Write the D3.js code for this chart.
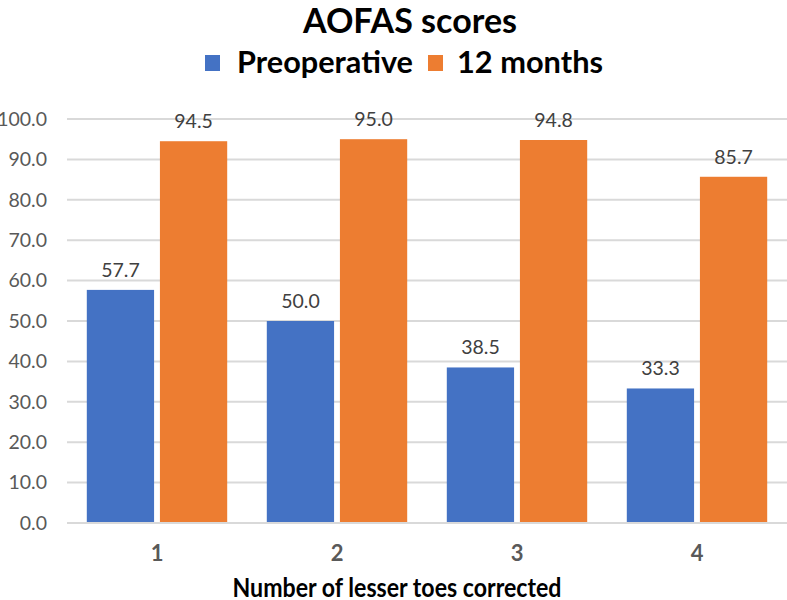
<!DOCTYPE html>
<html>
<head>
<meta charset="utf-8">
<script src="https://cdn.jsdelivr.net/npm/d3@7"></script>
<style>
  body { margin: 0; background: #fff; }
  text { font-family: Lato, "Open Sans", sans-serif; }
</style>
</head>
<body>
<svg id="chart"></svg>
<script>
// data
var categories = ["1", "2", "3", "4"];
var seriesNames = ["Preoperative", "12 months"];
var preoperative = [57.7, 50.0, 38.5, 33.3];
var months12 = [94.5, 95.0, 94.8, 85.7];
var yTicks = [0, 10, 20, 30, 40, 50, 60, 70, 80, 90, 100];
var colors = ["#4472C4", "#ED7D31"];

var W = 787, H = 600;
var margin = {top: 119, right: 0, bottom: 77, left: 67},
    width = W - margin.left - margin.right,
    height = H - margin.top - margin.bottom;

var svg = d3.select("#chart")
    .attr("width", W)
    .attr("height", H);

var g = svg.append("g")
    .attr("transform", "translate(" + margin.left + "," + margin.top + ")");

var x = d3.scaleBand()
  .domain(categories)
  .range([0, width])
  .paddingInner(0.22)
  .paddingOuter(0.11);

var xs = d3.scaleBand()
  .domain(seriesNames)
  .range([0, x.bandwidth()])
  .paddingInner(0.08);

var y = d3.scaleLinear()
  .domain([0, 100])
  .range([height, 0]);

// gridlines
g.selectAll(".grid")
  .data(yTicks)
  .enter().append("line")
    .attr("x1", 0)
    .attr("x2", width)
    .attr("y1", function(d) { return y(d); })
    .attr("y2", function(d) { return y(d); })
    .attr("stroke", "#d9d9d9")
    .attr("stroke-width", 2);

// y axis labels
var yAxis = g.append("g")
  .call(d3.axisLeft(y).tickValues(yTicks).tickSize(0).tickPadding(20)
    .tickFormat(d3.format(".1f")));
yAxis.select(".domain").remove();
yAxis.selectAll("text")
  .attr("fill", "#595959")
  .style("font-size", "19.5px")
  .style("font-family", "Lato, sans-serif");

var rows = categories.map(function(c, i) {
  return {cat: c, values: [preoperative[i], months12[i]]};
});

var groups = g.selectAll(".grp")
  .data(rows)
  .enter().append("g")
    .attr("transform", function(d) { return "translate(" + x(d.cat) + ",0)"; });

groups.selectAll("rect")
  .data(function(d) { return d.values.map(function(v, j) { return {s: seriesNames[j], v: v, j: j}; }); })
  .enter().append("rect")
    .attr("x", function(d) { return xs(d.s); })
    .attr("y", function(d) { return y(d.v); })
    .attr("width", xs.bandwidth())
    .attr("height", function(d) { return height - y(d.v); })
    .attr("fill", function(d) { return colors[d.j]; });

groups.selectAll(".lbl")
  .data(function(d) { return d.values.map(function(v, j) { return {s: seriesNames[j], v: v}; }); })
  .enter().append("text")
    .attr("x", function(d) { return xs(d.s) + xs.bandwidth() / 2; })
    .attr("y", function(d) { return y(d.v) - 13; })
    .attr("text-anchor", "middle")
    .attr("fill", "#404040")
    .style("font-size", "19.5px")
    .text(function(d) { return d3.format(".1f")(d.v); });

// baseline
g.append("line")
  .attr("x1", 0).attr("x2", width)
  .attr("y1", height).attr("y2", height)
  .attr("stroke", "#d9d9d9")
  .attr("stroke-width", 2);

// x axis labels
var xAxis = g.append("g")
  .attr("transform", "translate(0," + height + ")")
  .call(d3.axisBottom(x).tickSize(0).tickPadding(22));
xAxis.select(".domain").remove();
xAxis.selectAll("text")
  .attr("fill", "#595959")
  .style("font-size", "22px")
  .style("font-weight", "bold")
  .style("font-family", "Lato, sans-serif");

// x axis title
svg.append("text")
  .attr("x", 397)
  .attr("y", 597)
  .attr("text-anchor", "middle")
  .attr("fill", "#000")
  .attr("textLength", 329)
  .attr("lengthAdjust", "spacingAndGlyphs")
  .style("font-size", "26px")
  .style("font-weight", "bold")
  .text("Number of  lesser toes corrected");

// title
svg.append("text")
  .attr("x", 410)
  .attr("y", 33)
  .attr("text-anchor", "middle")
  .attr("fill", "#000")
  .attr("textLength", 214)
  .attr("lengthAdjust", "spacingAndGlyphs")
  .style("font-size", "34px")
  .style("font-weight", "bold")
  .text("AOFAS scores");

// legend
var legendX = [205, 428];
var legendW = [176, 146];
var legend = svg.selectAll(".leg")
  .data(seriesNames)
  .enter().append("g")
    .attr("transform", function(d, i) { return "translate(" + legendX[i] + ",55)"; });
legend.append("rect")
  .attr("width", 15).attr("height", 16)
  .attr("fill", function(d, i) { return colors[i]; });
legend.append("text")
  .attr("x", function(d, i) { return i === 0 ? 32 : 29; })
  .attr("y", 18)
  .attr("fill", "#000")
  .attr("textLength", function(d, i) { return legendW[i]; })
  .attr("lengthAdjust", "spacingAndGlyphs")
  .style("font-size", "31px")
  .style("font-weight", "bold")
  .text(function(d) { return d; });
</script>
</body>
</html>
